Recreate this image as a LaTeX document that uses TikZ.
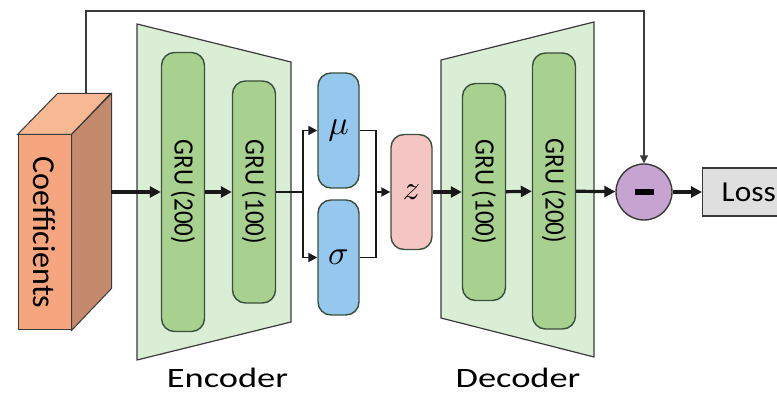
\documentclass[tikz,border=0pt]{standalone}
\usepackage{fontspec}
\setmainfont{Carlito}
\usepackage{tikz}
\usetikzlibrary{arrows.meta,positioning,calc}

\definecolor{netfill}{HTML}{DAEDD5}
\definecolor{grufill}{HTML}{A8D190}
\definecolor{grudraw}{HTML}{3C4E3C}
\definecolor{latfill}{HTML}{94C8EE}
\definecolor{zfill}{HTML}{F5C5C4}
\definecolor{subfill}{HTML}{C7A3D1}
\definecolor{lossfill}{HTML}{DFDFDF}
\definecolor{coeffront}{HTML}{F5A67F}
\definecolor{coefside}{HTML}{C48A6E}
\definecolor{coeftopc}{HTML}{F7B894}
\definecolor{linegray}{HTML}{3A3A3A}

\newcommand{\vlabel}[1]{\rotatebox{-90}{\scalebox{1}[1.12]{#1}}}
\newcommand{\wlabel}[1]{\scalebox{1.3}[1]{#1}}
\newcommand{\mlabel}[1]{\scalebox{3.4}{$#1$}}

\tikzset{
    net/.style={draw=linegray, fill=netfill, line width=1.2pt},
    gru/.style={draw=grudraw, fill=grufill, line width=1.4pt, rounded corners=13pt,
        minimum width=43pt, inner sep=0pt, font=\fontsize{25}{28}\selectfont},
    lat/.style={draw=grudraw, fill=latfill, line width=1.4pt, rounded corners=13pt,
        minimum width=41pt, minimum height=115pt, inner sep=0pt},
    face/.style={draw=linegray, line width=1pt},
    caption/.style={anchor=base, inner sep=0pt, font=\fontsize{28}{30}\selectfont},
    bigarrow/.style={-{Triangle[length=11pt,width=11pt]}, line width=3.2pt, draw=black!90},
    smallarrow/.style={-{Triangle[length=9pt,width=9pt]}, line width=1.8pt, draw=black!90},
    plain/.style={line width=1.8pt, draw=black!90},
}

\begin{document}
\begin{tikzpicture}[x=1pt,y=-1pt]
    \useasboundingbox (0,0) rectangle (777,395);
    %
    % encoder and decoder bodies
    \draw[net] (137,24) -- (291,62) -- (291,322) -- (137,360) -- cycle;
    \draw[net] (441,60) -- (594,22) -- (594,357) -- (441,318) -- cycle;
    \node[caption] (enclabel) at (227.5,388) {\wlabel{Encoder}};
    \node[caption] (declabel) at (518,388) {\wlabel{Decoder}};
    %
    % input block
    \node[face, fill=coeffront, minimum width=53pt, minimum height=195pt, inner sep=0pt,
        font=\fontsize{32}{34}\selectfont] (coef) at (44.5,232.5) {\rotatebox{-90}{Coefficients}};
    \draw[face, fill=coeftopc] (coef.north west) -- ++(40,-41) -- ++(53,0) -- (coef.north east) -- cycle;
    \draw[face, fill=coefside] (coef.north east) -- ++(40,-41) -- ++(0,195) -- (coef.south east) -- cycle;
    \coordinate (coefout) at (111,192);
    \coordinate (coeftop) at (86,94);
    \coordinate (skip)    at (86,11);
    %
    % layers
    \node[gru, minimum height=279pt] (eg200) at (183,192) {\vlabel{GRU (200)}};
    \node[gru, minimum height=222pt] (eg100) at (254,192) {\vlabel{GRU (100)}};
    \node[lat] (mu)    at (338.5,130.5) {\mlabel{\mu}};
    \node[lat] (sigma) at (338.5,257.5) {\mlabel{\sigma}};
    \node[lat, fill=zfill] (z) at (411.5,192) {\mlabel{z}};
    \node[gru, minimum height=217pt] (dg100) at (484,192) {\vlabel{GRU (100)}};
    \node[gru, minimum height=276pt] (dg200) at (554,191) {\vlabel{GRU (200)}};
    \node[circle, draw=linegray, fill=subfill, line width=1.4pt, minimum size=56pt, inner sep=0pt]
        (minus) at (644,192) {\rule{19pt}{6.5pt}};
    \node[draw=linegray, fill=lossfill, line width=1.4pt, anchor=west, minimum height=48pt,
        text width=80pt, inner xsep=19pt, font=\fontsize{29}{32}\selectfont] (loss) at (702,192) {\scalebox{1.08}[1]{Loss}};
    \coordinate (split) at (303,192);
    \coordinate (merge) at (376,192);
    %
    \path
        (coefout) edge[bigarrow]   (eg200.west)
        (eg200)   edge[bigarrow]   (eg100)
        (eg100)   edge[plain]      (split)
        (merge)   edge[smallarrow] (z)
        (z)       edge[bigarrow]   (dg100)
        (dg100)   edge[bigarrow]   (dg200)
        (dg200)   edge[bigarrow]   (minus)
        (minus)   edge[bigarrow]   (loss)
    ; %-path-%
    \draw[smallarrow] (split) |- (mu.west);
    \draw[smallarrow] (split) |- (sigma.west);
    \draw[plain] (mu.east) -| (merge) |- (sigma.east);
    \draw[-{Triangle[length=8pt,width=8pt]}, line width=1.3pt, draw=linegray]
        (coeftop) -- (skip) -| (minus.north);
\end{tikzpicture}
\end{document}
